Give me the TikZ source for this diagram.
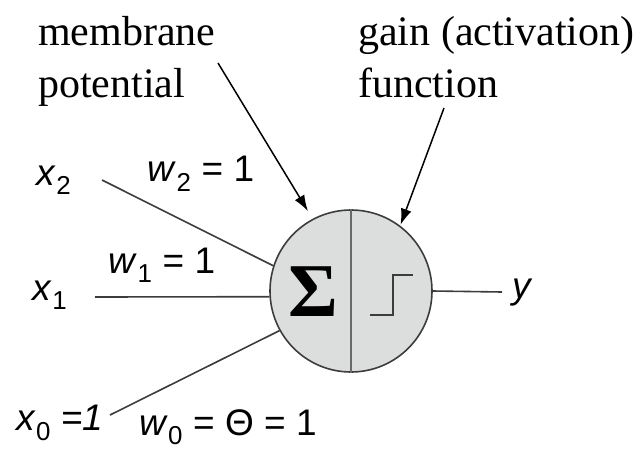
\documentclass[tikz,border=0pt]{standalone}
\usepackage{fontspec}
\setmainfont{Liberation Serif}
\setsansfont{Liberation Sans}
\usetikzlibrary{arrows.meta}

\definecolor{cellgray}{RGB}{220,221,221}
\definecolor{rimgray}{RGB}{60,60,60}
\definecolor{splitgray}{RGB}{105,105,105}

\tikzset{
  inlabel/.style={font=\sffamily\fontsize{37}{40}\selectfont, inner sep=0pt},
  toplabel/.style={font=\fontsize{42}{52}\selectfont, align=left, inner sep=0pt},
  wire/.style={line width=1.6pt, draw=rimgray},
}
\newcommand{\invar}[2]{\textit{#1}\textsubscript{#2}}

\begin{document}
\begin{tikzpicture}[x=1pt, y=-1pt, >={Latex[length=16pt,width=11pt]}]
		\useasboundingbox (0,0) rectangle (640,453);
		% the neuron
		\node[circle, minimum size=162pt, inner sep=0pt, fill=cellgray, draw=rimgray, line width=1.6pt] (neuron) at (351,291) {};
		\draw[line width=2.2pt, splitgray] (neuron.north) -- (neuron.south);
		\node[font=\bfseries\fontsize{76}{76}\selectfont] (sum) at (313,292) {Σ};
		\draw[line width=1.6pt, rimgray] (370,315) -- (393,315) -- (393,275) -- (413,275);
		% inputs and output
		\coordinate (in2) at (102,180);
		\coordinate (in1) at (95,297);
		\coordinate (in0) at (110,415);
		\coordinate (out) at (502,292);
		\draw[wire] (in2) -- (neuron.162);
		\draw[wire] (in1) -- (neuron.184);
		\draw[wire] (in0) -- (neuron.209);
		\draw[wire] (neuron.east) -- (out);
		\node[inlabel] (x2) at (54,180) {\invar{x}{2}};
		\node[inlabel] (x1) at (50,295) {\invar{x}{1}};
		\node[inlabel] (x0) at (60,423) {\invar{x}{0} =\textit{1}};
		\node[inlabel] (w2) at (201,174) {\invar{w}{2} = 1};
		\node[inlabel] (w1) at (162,265) {\invar{w}{1} = 1};
		\node[inlabel] (w0) at (228,427) {\invar{w}{0} = Θ = 1};
		\node[inlabel] (y) at (523,293) {\textit{y}};
		% the two remarks
		\node[toplabel, anchor=north west] (mp) at (38,16) {membrane\\potential};
		\node[toplabel, anchor=north west] (gf) at (358,16) {gain (activation)\\function};
		\coordinate (mptail) at (218,63);
		\coordinate (gftail) at (444,108);
		\draw[->, line width=1.5pt, shorten >=9pt] (mptail) -- (neuron.118);
		\draw[->, line width=1.5pt, shorten >=1pt] (gftail) -- (neuron.53);
	\end{tikzpicture}
\end{document}
